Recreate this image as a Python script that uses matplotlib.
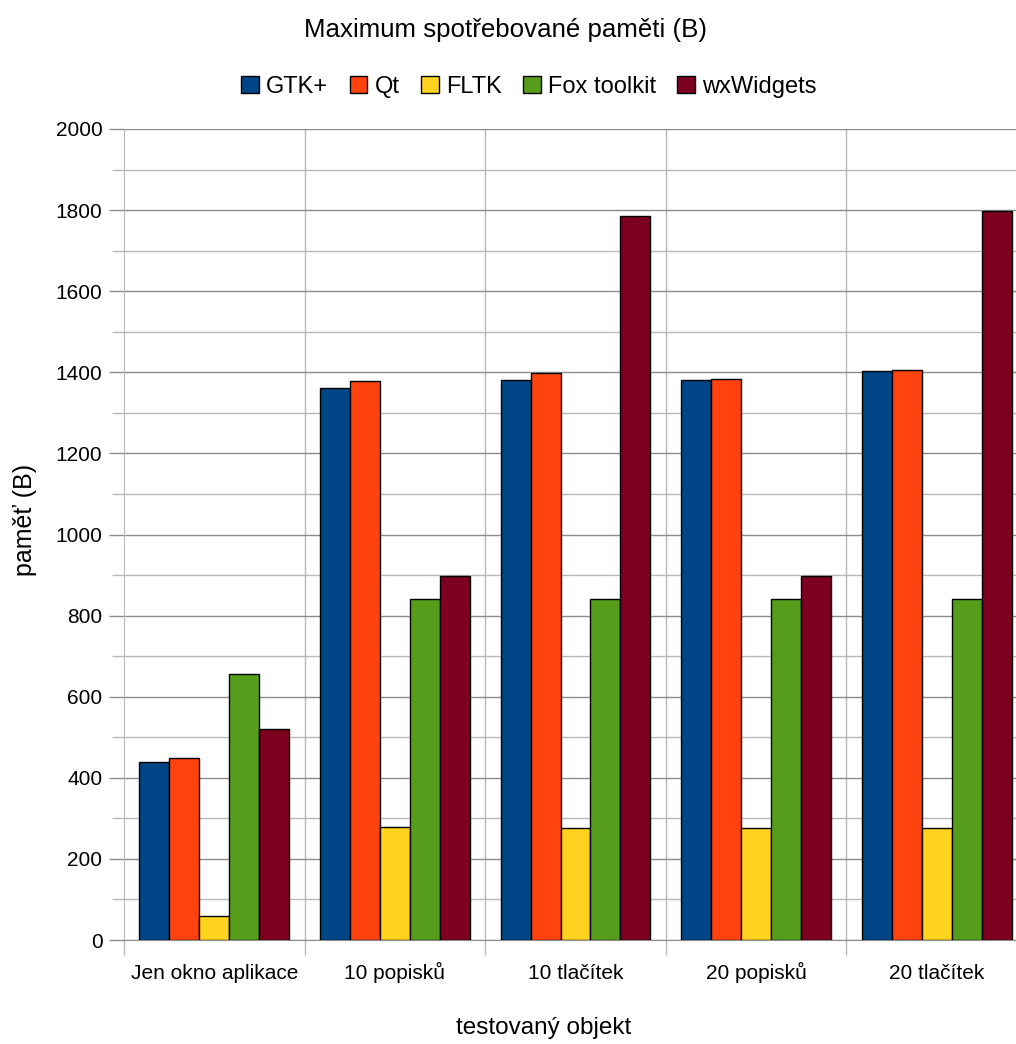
import matplotlib
matplotlib.use("Agg")
import matplotlib.pyplot as plt
import numpy as np

categories = ["Jen okno aplikace", "10 popisků", "10 tlačítek", "20 popisků", "20 tlačítek"]
series_names = ["GTK+", "Qt", "FLTK", "Fox toolkit", "wxWidgets"]
gtk = [439, 1361, 1380, 1380, 1402]
qt = [450, 1378, 1399, 1383, 1405]
fltk = [60, 278, 275, 276, 276]
fox = [656, 841, 841, 841, 841]
wx = [520, 897, 1785, 897, 1798]
colors = ["#004586", "#ff420e", "#ffd320", "#579d1c", "#7e0021"]
yticks = list(range(0, 2001, 200))

plt.rcParams['font.family'] = ['Liberation Sans', 'DejaVu Sans']

fig = plt.figure(figsize=(10.16, 10.44), dpi=100)
ax = fig.add_axes([124/1016, 1-940/1044, (1027-124)/1016, (940-129)/1044])

series = [gtk, qt, fltk, fox, wx]
x = np.arange(len(categories))
bw = 0.166
for i, (vals, name, c) in enumerate(zip(series, series_names, colors)):
    ax.bar(x + (i - 2) * bw, vals, width=bw, color=c, edgecolor='black',
           linewidth=1, label=name, zorder=3)

ax.set_xlim(-0.5, len(categories) - 0.5)
ax.set_ylim(0, 2000)
ax.set_yticks(yticks)
ax.set_yticks(range(100, 2000, 200), minor=True)
ax.grid(axis='y', which='major', color='#8c8c8c', linewidth=1, zorder=0)
ax.grid(axis='y', which='minor', color='#b8b8b8', linewidth=1, zorder=0)
for b in np.arange(0.5, len(categories) - 0.5, 1):
    ax.axvline(b, color='#b8b8b8', linewidth=1, zorder=0)
ax.set_xticks(np.arange(-0.5, len(categories), 1))
ax.set_xticklabels([])
ax.set_xticks(x, minor=True)
ax.set_xticklabels(categories, minor=True)
ax.tick_params(axis='x', which='major', length=11, color='#b8b8b8', width=1)
ax.tick_params(axis='x', which='minor', length=0, pad=28, labelsize=15)
for lab in ax.get_xticklabels(minor=True):
    lab.set_verticalalignment('baseline')
ax.tick_params(axis='y', which='major', length=11, color='#8c8c8c', width=1, labelsize=15, pad=4.5)
ax.tick_params(axis='y', which='minor', length=9, color='#b8b8b8', width=1)
for s in ['top', 'right']:
    ax.spines[s].set_visible(False)
ax.spines['left'].set_color('#b8b8b8')
ax.spines['bottom'].set_color('#8c8c8c')

fig.text(25/1016, 1-520/1044, "paměť (B)", fontsize=18, rotation=90,
         ha='center', va='center')
fig.text(544/1016, 1-1028/1044, "testovaný objekt", fontsize=17.5,
         ha='center', va='center')
fig.text(506/1016, 1-30/1044, "Maximum spotřebované paměti (B)", fontsize=18.6,
         ha='center', va='center')
leg = fig.legend(loc='center', bbox_to_anchor=(529/1016, 1-87/1044), ncol=5,
                 frameon=False, fontsize=17, handlelength=0.76, handleheight=0.76,
                 handletextpad=0.3, columnspacing=0.9)

fig.savefig("out.png", dpi=100)
